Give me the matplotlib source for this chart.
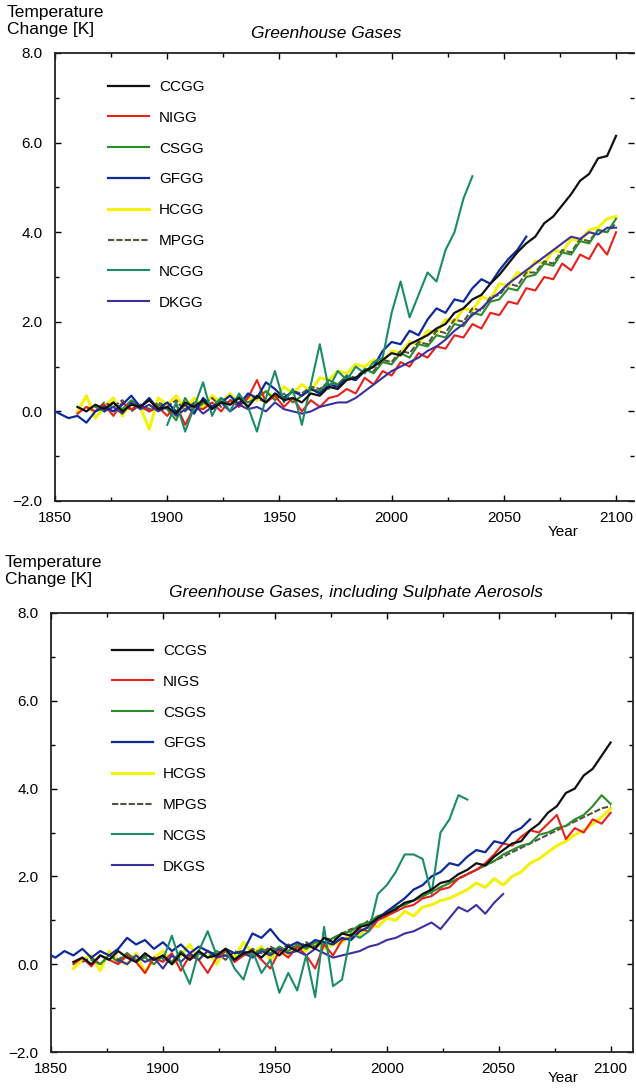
import numpy as np
import matplotlib
matplotlib.use("Agg")
import matplotlib.pyplot as plt
from matplotlib.ticker import MultipleLocator, FuncFormatter

plt.rcParams['font.family'] = ['Liberation Sans', 'DejaVu Sans']

# data (4-year steps)
step = 4

# --- upper panel: greenhouse gases only ---
ccgg_start = 1860
ccgg = [0.1, 0.0, 0.15, 0.05, 0.2, 0.0, 0.15, 0.1, 0.25, 0.05,
        0.1, -0.05, 0.2, 0.1, 0.25, 0.05, 0.2, 0.15, 0.3, 0.1,
        0.35, 0.2, 0.4, 0.25, 0.3, 0.2, 0.4, 0.35, 0.55, 0.5,
        0.7, 0.75, 0.9, 1.0, 1.15, 1.3, 1.25, 1.5, 1.6, 1.7,
        1.85, 1.95, 2.2, 2.3, 2.5, 2.6, 2.85, 3.05, 3.3, 3.55,
        3.75, 3.9, 4.2, 4.35, 4.6, 4.85, 5.15, 5.3, 5.65, 5.7, 6.15]
nigg_start = 1860
nigg = [-0.05, 0.1, 0.0, 0.15, -0.1, 0.2, 0.05, 0.15, 0.0, 0.1,
        -0.1, 0.15, -0.3, 0.1, 0.05, 0.2, 0.0, 0.25, 0.1, 0.3,
        0.7, 0.2, 0.35, 0.1, 0.3, 0.0, 0.25, 0.1, 0.3, 0.35,
        0.5, 0.4, 0.75, 0.6, 0.9, 0.8, 1.1, 1.0, 1.3, 1.2,
        1.45, 1.4, 1.7, 1.65, 1.95, 1.85, 2.2, 2.15, 2.45, 2.4,
        2.75, 2.7, 3.0, 2.95, 3.3, 3.15, 3.5, 3.4, 3.75, 3.5, 4.0]
csgg_start = 1868
csgg = [0.1, 0.0, 0.2, 0.05, 0.25, 0.1, 0.0, 0.15,
        0.05, -0.2, 0.3, 0.0, 0.2, 0.1, 0.3, 0.15, 0.35, 0.2,
        0.3, 0.45, 0.25, 0.4, 0.2, 0.35, 0.5, 0.45, 0.7, 0.6,
        0.8, 0.7, 0.95, 0.85, 1.1, 1.05, 1.3, 1.2, 1.5, 1.45,
        1.7, 1.65, 1.95, 1.9, 2.2, 2.15, 2.45, 2.5, 2.75, 2.7,
        3.0, 3.05, 3.3, 3.25, 3.55, 3.5, 3.8, 3.75, 4.05, 4.0, 4.3]
gfgg_start = 1848
gfgg = [0.05, -0.05, -0.15, -0.1, -0.25, 0.0, 0.1, 0.0, 0.15, 0.35, 0.1, 0.3, 0.05,
        0.2, 0.0, 0.15, -0.05, 0.3, 0.1, 0.2, 0.35, 0.15, 0.4,
        0.3, 0.65, 0.5, 0.3, 0.45, 0.35, 0.5, 0.4, 0.6, 0.55,
        0.75, 0.7, 0.9, 1.0, 1.35, 1.55, 1.5, 1.8, 1.7, 2.05,
        2.3, 2.2, 2.5, 2.45, 2.75, 2.95, 2.85, 3.15, 3.4, 3.6, 3.9]
hcgg_start = 1860
hcgg = [0.0, 0.35, -0.15, 0.1, 0.3, -0.1, 0.2, 0.1, -0.4, 0.3,
        0.15, 0.35, 0.05, 0.3, 0.1, 0.35, 0.2, 0.4, 0.15, 0.3,
        0.25, 0.45, 0.3, 0.55, 0.4, 0.6, 0.45, 0.75, 0.7, 0.9,
        0.85, 1.05, 1.0, 1.15, 1.1, 1.35, 1.3, 1.55, 1.5, 1.8,
        1.75, 2.05, 2.0, 2.3, 2.25, 2.55, 2.5, 2.85, 2.8, 3.1,
        3.05, 3.35, 3.3, 3.6, 3.55, 3.85, 3.8, 4.05, 4.1, 4.3, 4.35]
mpgg_start = 1864
mpgg = [0.1, 0.0, 0.2, 0.1, 0.25, 0.0, 0.15, 0.05, 0.2,
        0.1, 0.25, 0.0, 0.2, 0.15, 0.3, 0.1, 0.25, 0.2, 0.35,
        0.3, 0.2, 0.4, 0.3, 0.45, 0.4, 0.55, 0.5, 0.65, 0.6,
        0.8, 0.75, 0.95, 0.9, 1.15, 1.1, 1.35, 1.3, 1.55, 1.5,
        1.8, 1.75, 2.05, 2.0, 2.3, 2.25, 2.55, 2.6, 2.85, 2.8,
        3.1, 3.1, 3.35, 3.3, 3.6, 3.55, 3.85, 3.8, 4.05, 4.0, 4.2]
ncgg_start = 1900
ncgg = [-0.3, 0.2, -0.45, 0.1, 0.65, -0.1, 0.3, 0.0, 0.4, 0.1,
        -0.45, 0.3, 0.9, 0.2, 0.5, -0.3, 0.6, 1.5,
        0.5, 0.9, 0.7, 1.0, 0.85, 1.1, 1.2,
        2.2, 2.9, 2.1, 2.6, 3.1, 2.9, 3.6, 4.0, 4.75, 5.25]
dkgg_start = 1872
dkgg = [0.0, 0.1, -0.05, 0.2, 0.05, 0.15, 0.0,
        0.1, -0.1, 0.05, 0.15, -0.05, 0.1, 0.2, 0.0, 0.15, 0.05,
        0.1, 0.0, 0.2, 0.05, 0.0, -0.05, 0.0, 0.1, 0.15, 0.2,
        0.2, 0.3, 0.45, 0.6, 0.75, 0.9, 1.0, 1.1, 1.2, 1.35,
        1.45, 1.6, 1.8, 1.95, 2.15, 2.3, 2.5, 2.65, 2.85, 3.0,
        3.15, 3.3, 3.45, 3.6, 3.75, 3.9, 3.85, 4.0, 3.95, 4.1, 4.1]

# --- lower panel: greenhouse gases + sulphate aerosols ---
ccgs_start = 1860
ccgs = [0.05, 0.15, 0.0, 0.2, 0.1, 0.3, 0.15, 0.05, 0.25, 0.1,
        0.2, 0.0, 0.25, 0.1, 0.3, 0.15, 0.2, 0.35, 0.1, 0.25,
        0.3, 0.15, 0.35, 0.2, 0.4, 0.3, 0.45, 0.35, 0.6, 0.5,
        0.7, 0.65, 0.85, 0.9, 1.05, 1.15, 1.25, 1.4, 1.45, 1.6,
        1.7, 1.85, 1.9, 2.05, 2.15, 2.3, 2.25, 2.45, 2.6, 2.75,
        2.8, 3.05, 3.2, 3.45, 3.6, 3.9, 4.0, 4.3, 4.45, 4.75, 5.05]
nigs_start = 1860
nigs = [0.0, 0.15, -0.05, 0.2, 0.1, 0.0, 0.2, 0.05, -0.2, 0.15,
        0.05, 0.25, -0.15, 0.2, 0.1, -0.2, 0.15, 0.3, 0.05, 0.2,
        0.3, 0.1, -0.1, 0.3, 0.15, 0.4, 0.2, -0.1, 0.45, 0.2,
        0.55, 0.6, 0.8, 0.75, 1.0, 1.1, 1.2, 1.3, 1.35, 1.5,
        1.55, 1.7, 1.75, 1.95, 2.05, 2.15, 2.3, 2.5, 2.75, 2.7,
        2.9, 3.05, 3.0, 3.2, 3.4, 2.85, 3.1, 3.0, 3.3, 3.2, 3.45]
csgs_start = 1868
csgs = [0.1, 0.0, 0.2, 0.05, 0.25, 0.1, 0.15, 0.0,
        0.2, 0.05, 0.3, 0.1, 0.25, 0.15, 0.3, 0.2, 0.1, 0.3,
        0.2, 0.35, 0.25, 0.4, 0.3, 0.45, 0.35, 0.5, 0.45, 0.6,
        0.7, 0.75, 0.9, 0.95, 1.1, 1.15, 1.3, 1.35, 1.45, 1.55,
        1.65, 1.75, 1.85, 1.95, 2.05, 2.15, 2.25, 2.35, 2.5, 2.6,
        2.7, 2.75, 2.95, 3.0, 3.1, 3.15, 3.3, 3.4, 3.6, 3.85, 3.65]
gfgs_start = 1848
gfgs = [0.25, 0.15, 0.3, 0.2, 0.35, 0.15, 0.3, 0.2, 0.35, 0.6, 0.45, 0.55, 0.35,
        0.5, 0.3, 0.45, 0.25, 0.4, 0.3, 0.2, 0.35, 0.25, 0.3,
        0.7, 0.6, 0.8, 0.55, 0.4, 0.5, 0.4, 0.55, 0.5, 0.45,
        0.6, 0.55, 0.75, 0.85, 1.05, 1.2, 1.35, 1.5, 1.7, 1.8,
        2.0, 2.1, 2.3, 2.25, 2.45, 2.6, 2.55, 2.8, 2.75, 3.0, 3.1, 3.3]
hcgs_start = 1860
hcgs = [-0.1, 0.1, 0.2, -0.15, 0.3, 0.1, 0.0, 0.25, -0.2, 0.15,
        0.3, 0.0, 0.2, 0.45, 0.1, 0.3, 0.0, 0.35, 0.15, 0.5,
        0.25, 0.4, 0.1, 0.35, 0.2, 0.45, 0.3, 0.5, 0.35, 0.45,
        0.5, 0.7, 0.65, 0.9, 0.85, 1.05, 1.0, 1.2, 1.1, 1.3,
        1.35, 1.45, 1.5, 1.6, 1.7, 1.85, 1.75, 1.95, 1.8, 2.0,
        2.1, 2.3, 2.4, 2.55, 2.7, 2.8, 2.95, 3.05, 3.2, 3.35, 3.55]
mpgs_start = 1864
mpgs = [0.05, 0.15, 0.0, 0.2, 0.1, 0.25, 0.05, 0.2, 0.1,
        0.15, 0.0, 0.25, 0.1, 0.3, 0.15, 0.25, 0.1, 0.3, 0.2,
        0.35, 0.25, 0.4, 0.3, 0.45, 0.35, 0.5, 0.4, 0.6, 0.55,
        0.7, 0.8, 0.85, 1.0, 1.05, 1.2, 1.25, 1.4, 1.45, 1.55,
        1.65, 1.75, 1.85, 1.95, 2.05, 2.15, 2.25, 2.35, 2.45, 2.55,
        2.65, 2.75, 2.85, 2.95, 3.05, 3.15, 3.25, 3.35, 3.45, 3.55, 3.6]
ncgs_start = 1900
ncgs = [0.1, 0.65, 0.0, -0.45, 0.3, 0.75, 0.2, 0.35, -0.1, -0.35,
        0.3, -0.2, 0.1, -0.65, -0.2, -0.6, 0.2, -0.75,
        0.85, -0.5, -0.35, 0.7, 0.6, 0.75, 1.6,
        1.8, 2.1, 2.5, 2.5, 2.4, 1.6, 3.0, 3.3, 3.85, 3.75]
dkgs_start = 1880
dkgs = [0.1, 0.0, 0.2, 0.05, 0.15,
        -0.1, 0.2, 0.05, 0.25, 0.1, 0.3, 0.15, 0.2, 0.1, 0.25,
        0.15, 0.3, 0.2, 0.35, 0.25, 0.3, 0.2, 0.35, 0.25, 0.15,
        0.2, 0.25, 0.3, 0.4, 0.45, 0.55, 0.6, 0.7, 0.75, 0.85,
        0.95, 0.8, 1.05, 1.3, 1.2, 1.35, 1.15, 1.4, 1.6]

# colours / styles (legend order)
col_cc = '#111111'
col_ni = '#e8201a'
col_cs = '#2a8c2a'
col_gf = '#0d2a9a'
col_hc = '#f2f20a'
col_mp = '#5a5241'
col_nc = '#1a8c6a'
col_dk = '#3b30a0'

def yrs(start, vals):
    return np.arange(start, start + step * len(vals), step)

def minus(v, pos):
    return ('%.1f' % v).replace('-', '\u2212')

def setup_axes(ax, xmax):
    ax.set_xlim(1850, xmax)
    ax.set_ylim(-2.0, 8.0)
    ax.xaxis.set_major_locator(MultipleLocator(50))
    ax.xaxis.set_minor_locator(MultipleLocator(25))
    ax.yaxis.set_major_locator(MultipleLocator(2))
    ax.yaxis.set_minor_locator(MultipleLocator(1))
    ax.yaxis.set_major_formatter(FuncFormatter(minus))
    ax.tick_params(which='both', direction='in', top=True, right=True, width=1.0)
    ax.tick_params(which='major', length=4)
    ax.tick_params(which='minor', length=3)
    ax.tick_params(axis='x', labelsize=11, pad=7)
    ax.tick_params(axis='y', labelsize=11, pad=9)
    for s in ax.spines.values():
        s.set_linewidth(1.3)
        s.set_color('#222222')

def draw(ax, series):
    handles = {}
    for name, start, vals, c, lw, ls, z in series:
        ln, = ax.plot(yrs(start, vals), vals, color=c, lw=lw, ls=ls, zorder=z, label=name)
        handles[name] = ln
    return handles

fig = plt.figure(figsize=(6.36, 10.88), dpi=100)

# ---------------- upper panel ----------------
ax1 = fig.add_axes([55/636, 1 - 501/1088, (634-55)/636, (501-53)/1088])
setup_axes(ax1, 2108)
ax1.spines['right'].set_visible(False)   # cut off in the scan
top = [
    ('CCGG', ccgg_start, ccgg, col_cc, 1.6, '-', 9),
    ('NIGG', nigg_start, nigg, col_ni, 1.5, '-', 5),
    ('CSGG', csgg_start, csgg, col_cs, 1.5, '-', 4),
    ('GFGG', gfgg_start, gfgg, col_gf, 1.6, '-', 7),
    ('HCGG', hcgg_start, hcgg, col_hc, 2.2, '-', 2),
    ('MPGG', mpgg_start, mpgg, col_mp, 1.5, (0, (3, 1)), 3),
    ('NCGG', ncgg_start, ncgg, col_nc, 1.5, '-', 8),
    ('DKGG', dkgg_start, dkgg, col_dk, 1.5, '-', 6),
]
h1 = draw(ax1, top)
ax1.legend([h1[n[0]] for n in top], [n[0] for n in top], loc='upper left',
           bbox_to_anchor=((108-55)/579, (501-80)/448), frameon=False,
           fontsize=11, handlelength=2.7, handletextpad=0.65, labelspacing=1.1,
           borderpad=0, borderaxespad=0)
fig.text(7/636, 1 - 5/1088, 'Temperature\nChange [K]', fontsize=12.5,
         ha='left', va='top', linespacing=1.2)
fig.text(326/636, 1 - 33/1088, 'Greenhouse Gases', fontsize=12.5,
         style='italic', ha='center', va='center')
fig.text(563/636, 1 - 532/1088, 'Year', fontsize=11, ha='center', va='center')

# ---------------- lower panel ----------------
ax2 = fig.add_axes([51/636, 1 - 1052/1088, (633-51)/636, (1052-613)/1088])
setup_axes(ax2, 2110)
bot = [
    ('CCGS', ccgs_start, ccgs, col_cc, 1.6, '-', 9),
    ('NIGS', nigs_start, nigs, col_ni, 1.5, '-', 5),
    ('CSGS', csgs_start, csgs, col_cs, 1.5, '-', 4),
    ('GFGS', gfgs_start, gfgs, col_gf, 1.6, '-', 7),
    ('HCGS', hcgs_start, hcgs, col_hc, 2.2, '-', 2),
    ('MPGS', mpgs_start, mpgs, col_mp, 1.5, (0, (3, 1)), 3),
    ('NCGS', ncgs_start, ncgs, col_nc, 1.5, '-', 8),
    ('DKGS', dkgs_start, dkgs, col_dk, 1.5, '-', 6),
]
h2 = draw(ax2, bot)
ax2.legend([h2[n[0]] for n in bot], [n[0] for n in bot], loc='upper left',
           bbox_to_anchor=((112-51)/582, (1052-644)/439), frameon=False,
           fontsize=11, handlelength=2.7, handletextpad=0.65, labelspacing=1.1,
           borderpad=0, borderaxespad=0)
fig.text(5/636, 1 - 555/1088, 'Temperature\nChange [K]', fontsize=12.5,
         ha='left', va='top', linespacing=1.2)
fig.text(356/636, 1 - 592/1088, 'Greenhouse Gases, including Sulphate Aerosols',
         fontsize=12.5, style='italic', ha='center', va='center')
fig.text(563/636, 1 - 1078/1088, 'Year', fontsize=11, ha='center', va='center')

fig.savefig('out.png', dpi=100)
